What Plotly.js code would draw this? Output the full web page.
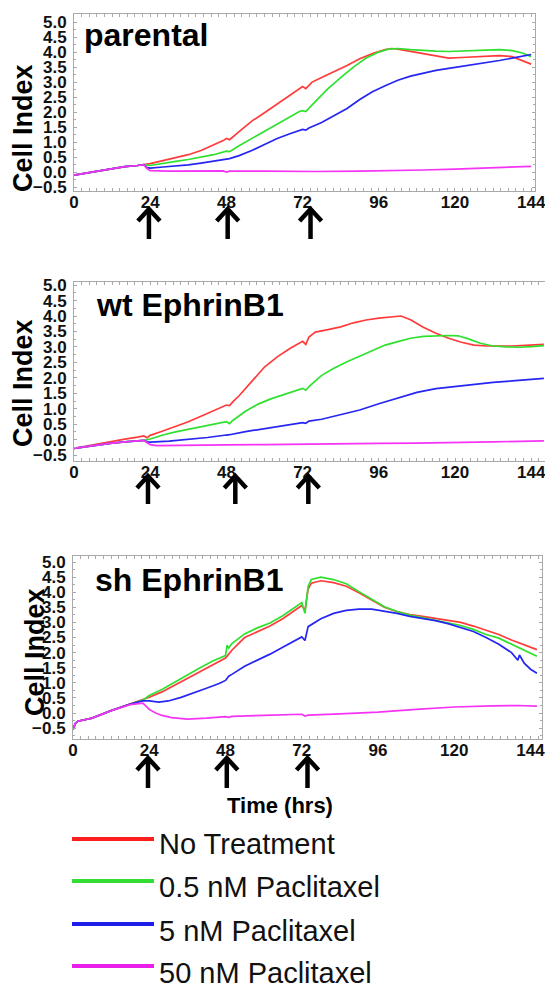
<!DOCTYPE html>
<html>
<head>
<meta charset="utf-8">
<script src="https://cdn.plot.ly/plotly-3.0.1.min.js"></script>
<style>
html,body{margin:0;padding:0;background:#fff;overflow:hidden;}
#chart{width:552px;height:987px;}
</style>
</head>
<body>
<div id="chart"></div>
<script>
// ---------------- DATA ----------------
const seriesNames = ["No Treatment", "0.5 nM Paclitaxel", "5 nM Paclitaxel", "50 nM Paclitaxel"];
const panelTitles = ["parental", "wt EphrinB1", "sh EphrinB1"];
const xTickVals = [0, 24, 48, 72, 96, 120, 144];
const yTickVals = [-0.5, 0, 0.5, 1, 1.5, 2, 2.5, 3, 3.5, 4, 4.5, 5];
const arrowTimes = [[23.6, 48.4, 74.5], [23.3, 50.8, 73.8], [23.6, 48.4, 73.8]];

// Panel 1: parental
const p1NoTreat_t = [0,4,8,12,16,20,22,24,28,32,36,40,44,47,48,49,52,56,60,64,68,71,72,73,75,78,82,86,90,94,98,100,102,106,110,114,118,122,126,130,134,138,141,144];
const p1NoTreat_v = [-0.1,-0.03,0.05,0.12,0.18,0.22,0.25,0.28,0.38,0.48,0.58,0.72,0.9,1.05,1.12,1.08,1.35,1.7,1.98,2.27,2.55,2.75,2.85,2.78,3.0,3.15,3.35,3.55,3.78,3.95,4.08,4.12,4.1,4.02,3.95,3.87,3.8,3.82,3.84,3.86,3.88,3.85,3.73,3.6];
const p1Low_t = [0,4,8,12,16,20,22,24,28,32,36,40,44,48,49,52,56,60,64,68,71,72,73,76,80,84,88,92,96,99,102,106,110,114,118,122,126,130,134,138,141,144];
const p1Low_v = [-0.1,-0.03,0.05,0.12,0.18,0.22,0.25,0.22,0.3,0.36,0.42,0.5,0.58,0.7,0.68,0.88,1.12,1.35,1.6,1.85,2.02,2.05,2.02,2.35,2.78,3.15,3.5,3.8,4.0,4.1,4.12,4.08,4.05,4.03,4.02,4.03,4.05,4.07,4.08,4.05,3.98,3.85];
const p1Mid_t = [0,4,8,12,16,20,22,23,24,28,32,36,40,44,48,49,52,56,60,64,68,72,73,74,78,82,86,90,94,98,102,106,110,114,118,122,126,130,134,138,141,144];
const p1Mid_v = [-0.1,-0.03,0.05,0.12,0.18,0.22,0.25,0.15,0.13,0.17,0.2,0.24,0.3,0.37,0.44,0.45,0.55,0.72,0.92,1.12,1.28,1.42,1.4,1.47,1.65,1.88,2.12,2.42,2.68,2.88,3.06,3.2,3.3,3.39,3.46,3.52,3.58,3.65,3.72,3.8,3.87,3.92];
const p1High_t = [0,4,8,12,16,20,22,23,24,30,36,47,48,49,60,72,74,76,90,100,110,120,130,138,144];
const p1High_v = [-0.1,-0.03,0.05,0.12,0.18,0.22,0.25,0.12,0.05,0.03,0.04,0.04,0.0,0.03,0.03,0.02,0.0,0.02,0.03,0.04,0.07,0.1,0.14,0.17,0.19];

// Panel 2: wt EphrinB1
const p2NoTreat_t = [0,4,8,12,16,20,22,23,24,28,32,36,40,44,48,49,50,52,56,60,64,68,72,73,74,76,80,84,88,92,96,100,103,106,110,114,118,122,126,130,134,138,142,148];
const p2NoTreat_v = [-0.28,-0.2,-0.12,-0.05,0.02,0.08,0.12,0.06,0.14,0.28,0.42,0.58,0.76,0.95,1.12,1.1,1.22,1.42,1.9,2.35,2.68,2.95,3.18,3.08,3.32,3.48,3.56,3.65,3.78,3.87,3.93,3.97,4.0,3.88,3.64,3.44,3.28,3.15,3.06,3.03,3.02,3.03,3.05,3.08];
const p2Low_t = [0,4,8,12,16,20,22,24,28,32,36,40,44,48,49,50,54,58,62,66,70,72,73,74,78,82,86,90,94,98,102,106,110,114,118,121,124,128,132,136,140,144,148];
const p2Low_v = [-0.28,-0.22,-0.16,-0.11,-0.07,-0.04,-0.02,0.02,0.15,0.25,0.33,0.43,0.5,0.58,0.52,0.62,0.92,1.15,1.32,1.45,1.58,1.66,1.6,1.72,2.08,2.32,2.52,2.7,2.9,3.06,3.17,3.28,3.34,3.36,3.37,3.36,3.27,3.12,3.03,3.0,2.99,3.01,3.04];
const p2Mid_t = [0,4,8,12,16,20,22,23,24,30,36,42,48,49,54,60,66,72,73,74,78,84,90,96,102,108,114,120,126,132,138,144,148];
const p2Mid_v = [-0.28,-0.22,-0.16,-0.11,-0.07,-0.04,-0.02,-0.07,-0.08,-0.05,0.0,0.07,0.15,0.16,0.26,0.36,0.46,0.55,0.53,0.6,0.66,0.8,0.96,1.16,1.34,1.53,1.65,1.72,1.79,1.85,1.9,1.95,1.98];
const p2High_t = [0,4,8,12,16,20,22,23,24,26,36,48,60,72,74,84,96,108,120,132,148];
const p2High_v = [-0.28,-0.22,-0.16,-0.11,-0.07,-0.04,-0.02,-0.1,-0.16,-0.19,-0.19,-0.17,-0.16,-0.14,-0.15,-0.13,-0.12,-0.11,-0.1,-0.07,-0.04];

// Panel 3: sh EphrinB1
const p3NoTreat_t = [0,0.7,1.5,6,12,18,22,24,28,32,36,40,44,48,49,50,54,58,62,66,70,72,73,74,75,78,82,86,90,94,98,102,106,110,114,118,122,126,130,134,138,142,146];
const p3NoTreat_v = [-0.55,-0.35,-0.27,-0.17,0.08,0.3,0.43,0.52,0.7,0.92,1.15,1.38,1.6,1.82,1.95,2.08,2.5,2.7,2.88,3.12,3.4,3.56,3.4,4.1,4.3,4.38,4.32,4.2,3.98,3.73,3.5,3.36,3.26,3.2,3.14,3.08,3.0,2.88,2.74,2.6,2.42,2.25,2.1];
const p3Low_t = [0,0.7,1.5,6,12,18,22,23,24,28,32,36,40,44,48,48.5,49,50,54,58,62,66,70,72,73,74,75,78,82,86,90,94,98,102,106,110,114,118,122,126,130,134,138,142,146];
const p3Low_v = [-0.55,-0.35,-0.27,-0.17,0.08,0.3,0.43,0.5,0.58,0.78,1.02,1.27,1.5,1.72,1.9,2.25,2.15,2.3,2.62,2.82,2.98,3.22,3.5,3.66,3.3,4.2,4.42,4.5,4.42,4.28,4.02,3.76,3.52,3.36,3.24,3.16,3.08,3.0,2.9,2.77,2.6,2.48,2.28,2.08,1.88];
const p3Mid_t = [0,0.7,1.5,6,12,18,22,24,27,30,34,38,42,46,48,49,50,54,58,62,66,70,72,73,74,78,82,86,90,94,98,102,106,110,114,118,122,126,130,134,138,140,140.5,142,144,146];
const p3Mid_v = [-0.55,-0.35,-0.27,-0.17,0.08,0.3,0.4,0.4,0.36,0.4,0.52,0.66,0.82,0.98,1.08,1.22,1.28,1.55,1.75,1.95,2.18,2.4,2.52,2.4,2.86,3.12,3.3,3.4,3.44,3.44,3.38,3.3,3.2,3.14,3.06,2.96,2.84,2.7,2.5,2.28,2.0,1.75,1.92,1.65,1.45,1.32];
const p3High_t = [0,0.7,1.5,6,12,18,22,23,24,26,28,31,36,42,48,49,50,60,72,73,74,84,96,108,120,132,140,146];
const p3High_v = [-0.55,-0.35,-0.27,-0.17,0.08,0.28,0.33,0.22,0.12,0.0,-0.08,-0.15,-0.2,-0.17,-0.12,-0.14,-0.11,-0.08,-0.04,-0.1,-0.07,-0.03,0.03,0.12,0.2,0.24,0.25,0.23];

// ---------------- STYLE ----------------
const curveColors = ["#ff3b3b", "#2fe02f", "#2626f2", "#f533f5"];
const legendColors = ["#ff1e1e", "#33dd33", "#1e1eea", "#ea1eea"];
const W = 552, H = 987;
const px = v => v / W;
const py = v => 1 - v / H;
const FONT = "Liberation Sans, Arial, sans-serif";

const panels = [
  {series: [[p1NoTreat_t,p1NoTreat_v],[p1Low_t,p1Low_v],[p1Mid_t,p1Mid_v],[p1High_t,p1High_v]],
   xd: [74, 535], xr: [0, 145.2], yd: [14, 191], yr: [-0.63, 5.27],
   title: {x: 82, y: 35}, ylab: {x: 23, y: 128}, arrow: [209, 239]},
  {series: [[p2NoTreat_t,p2NoTreat_v],[p2Low_t,p2Low_v],[p2Mid_t,p2Mid_v],[p2High_t,p2High_v]],
   xd: [74, 549], xr: [0, 149.6], yd: [282, 461], yr: [-0.69, 5.1],
   title: {x: 94, y: 305}, ylab: {x: 23, y: 383}, arrow: [476, 504]},
  {series: [[p3NoTreat_t,p3NoTreat_v],[p3Low_t,p3Low_v],[p3Mid_t,p3Mid_v],[p3High_t,p3High_v]],
   xd: [73, 542], xr: [0, 147.6], yd: [556, 739], yr: [-0.86, 5.2],
   title: {x: 93, y: 580}, ylab: {x: 35, y: 652}, arrow: [758, 788]}
];

const traces = [];
const layout = {
  width: W, height: H, margin: {l:0, r:0, t:0, b:0},
  paper_bgcolor: "#fff", plot_bgcolor: "#fff", showlegend: false,
  annotations: [], shapes: []
};
const borderCol = "#a9a9a9";

panels.forEach((p, i) => {
  const n = i === 0 ? "" : String(i + 1);
  p.series.forEach((s, k) => {
    traces.push({
      type: "scatter", mode: "lines", x: s[0], y: s[1], name: seriesNames[k],
      xaxis: "x" + n, yaxis: "y" + n,
      line: {color: curveColors[k], width: 1.7}, hoverinfo: "skip"
    });
  });
  layout["xaxis" + n] = {
    domain: [px(p.xd[0]), px(p.xd[1])], range: p.xr, anchor: "y" + n,
    showline: true, linecolor: borderCol, linewidth: 1, mirror: "allticks",
    ticks: "inside", ticklen: 3, tickcolor: borderCol, tickvals: xTickVals,
    ticklabelstandoff: -4,
    minor: {dtick: 2.4, tick0: 0, ticks: "inside", ticklen: 3, tickcolor: borderCol},
    showgrid: false, zeroline: false,
    tickfont: {family: FONT, size: 17, color: "#111", weight: "bold"}
  };
  layout["yaxis" + n] = {
    domain: [py(p.yd[1]), py(p.yd[0])], range: p.yr, anchor: "x" + n,
    showline: true, linecolor: borderCol, linewidth: 1, mirror: "allticks",
    ticks: "inside", ticklen: 3, tickcolor: borderCol, tickvals: yTickVals,
    tickformat: ".1f", ticklabelstandoff: 3,
    minor: {dtick: 0.25, ticks: "inside", ticklen: 2, tickcolor: borderCol},
    showgrid: false, zeroline: false,
    tickfont: {family: FONT, size: 17, color: "#111", weight: "bold"}
  };
  layout.annotations.push({
    xref: "paper", yref: "paper", x: px(p.title.x), y: py(p.title.y),
    xanchor: "left", yanchor: "middle", showarrow: false, text: panelTitles[i],
    font: {family: FONT, size: 32, color: "#000", weight: "bold"}
  });
  layout.annotations.push({
    xref: "paper", yref: "paper", x: px(p.ylab.x), y: py(p.ylab.y),
    xanchor: "center", yanchor: "middle", showarrow: false, text: "Cell Index", textangle: -90,
    font: {family: FONT, size: 27, color: "#000", weight: "bold"}
  });
  // arrows marking additions
  const pxPerHr = (p.xd[1] - p.xd[0]) / (p.xr[1] - p.xr[0]);
  const half = 11 / pxPerHr;
  arrowTimes[i].forEach(t => {
    layout.shapes.push({type: "line", xref: "x" + n, yref: "paper",
      x0: t, x1: t, y0: py(p.arrow[1]), y1: py(p.arrow[0] + 2),
      line: {color: "#000", width: 4.5}});
    layout.shapes.push({type: "path", xref: "x" + n, yref: "paper",
      path: `M ${t - half},${py(p.arrow[0] + 12)} L ${t},${py(p.arrow[0])} L ${t + half},${py(p.arrow[0] + 12)}`,
      line: {color: "#000", width: 4.5}});
  });
});

layout.annotations.push({
  xref: "paper", yref: "paper", x: px(280), y: py(805), xanchor: "center", yanchor: "middle",
  showarrow: false, text: "Time (hrs)", font: {family: FONT, size: 22, color: "#000", weight: "bold"}
});

// legend
const legLineY = [839, 881, 924, 966];
const legTextY = [844, 887, 931, 973];
seriesNames.forEach((nm, k) => {
  layout.shapes.push({type: "line", xref: "paper", yref: "paper",
    x0: px(72), x1: px(154), y0: py(legLineY[k]), y1: py(legLineY[k]),
    line: {color: legendColors[k], width: 4}});
  layout.annotations.push({xref: "paper", yref: "paper", x: px(157), y: py(legTextY[k]),
    xanchor: "left", yanchor: "middle", showarrow: false, text: nm,
    font: {family: FONT, size: 29, color: "#111"}});
});

Plotly.newPlot("chart", traces, layout, {staticPlot: true, displayModeBar: false});
</script>
</body>
</html>
